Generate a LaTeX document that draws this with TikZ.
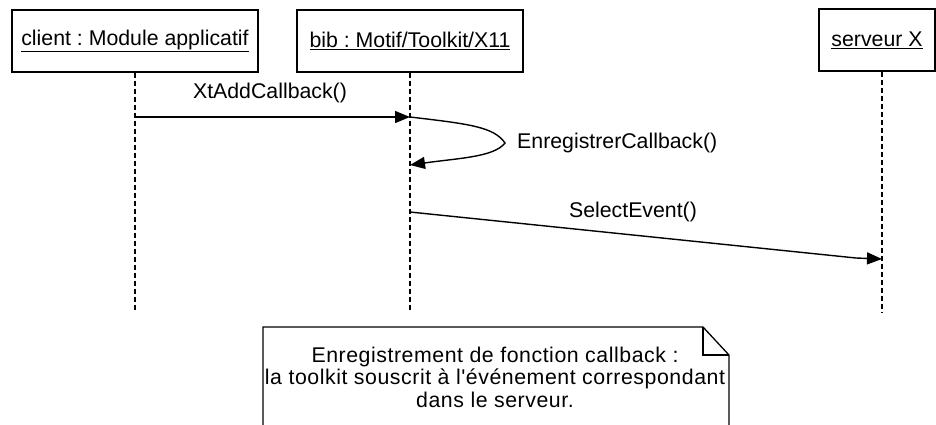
\documentclass[tikz,border=0pt]{standalone}
\usepackage{fontspec}
\setmainfont{Liberation Sans}
\newfontfamily\notefont[LetterSpace=2.6]{Liberation Sans}
\usetikzlibrary{arrows.meta,calc}
\frenchspacing
\tikzset{
  obj/.style={draw, line width=1.4pt, minimum height=62pt, inner sep=0pt, font=\fontsize{21.3}{25}\selectfont},
  lifeline/.style={line width=1.3pt, dash pattern=on 5pt off 3pt},
  msg/.style={line width=1.4pt, -{Triangle[length=15pt,width=12pt]}},
  lbl/.style={font=\fontsize{21.3}{25}\selectfont, inner sep=0pt},
  notebox/.style={line width=1.3pt}
}
\begin{document}
\begin{tikzpicture}[x=1pt,y=-1pt]
\useasboundingbox (0,0) rectangle (936,424);

% participants
\node[obj, minimum width=246pt] (cli) at (135,41) {\underline{client : Module applicatif}};
\node[obj, minimum width=226pt] (bib) at (410,41) {\underline{bib : Motif/Toolkit/X11}};
\node[obj, minimum width=116pt] (srv) at (877,40) {\underline{serveur X}};

% lifelines
\coordinate (srvx) at (882,0);
\coordinate (cliend) at (135,312);
\coordinate (bibend) at (410,312);
\coordinate (srvend) at (882,312);
\draw[lifeline] (cli.south) -- (cliend);
\draw[lifeline] (bib.south) -- (bibend);
\draw[lifeline] (srv.south -| srvx) -- (srvend);

% message anchors on the lifelines
\coordinate (m1s) at (135,117);
\coordinate (m1e) at (410,117);
\coordinate (m2e) at (410,165);
\coordinate (m3s) at (410,212);
\coordinate (m3k) at (856,258);
\coordinate (m3e) at (882,259);

% XtAddCallback()
\draw[msg] (m1s) -- (m1e);
\node[lbl] (l1) at (270,93) {XtAddCallback()};

% EnregistrerCallback() : self call
\draw[msg] (m1e) .. controls (470,124) and (494,127) .. (505,143)
  .. controls (494,157) and (460,158) .. (m2e);
\node[lbl, anchor=west] (l2) at (517,143) {EnregistrerCallback()};

% SelectEvent()
\draw[msg] (m3s) -- (m3k) -- (m3e);
\node[lbl] (l3) at (633,212) {SelectEvent()};

% note
\coordinate (nbl) at (263,430);
\coordinate (ntl) at (263,327);
\coordinate (nft) at (703,327);
\coordinate (nfc) at (703,355);
\coordinate (nfr) at (729,355);
\coordinate (nbr) at (729,430);
\draw[notebox] (nbl) -- (ntl) -- (nft) -- (nfr) -- (nbr);
\draw[notebox] (nft) -- (nfc) -- (nfr);
\node[lbl, align=center, font=\notefont\fontsize{21.3}{22.5}\selectfont] (note) at (495,377)
  {Enregistrement de fonction callback :\\
   la toolkit souscrit à l'événement correspondant\\
   dans le serveur.};
\end{tikzpicture}
\end{document}
